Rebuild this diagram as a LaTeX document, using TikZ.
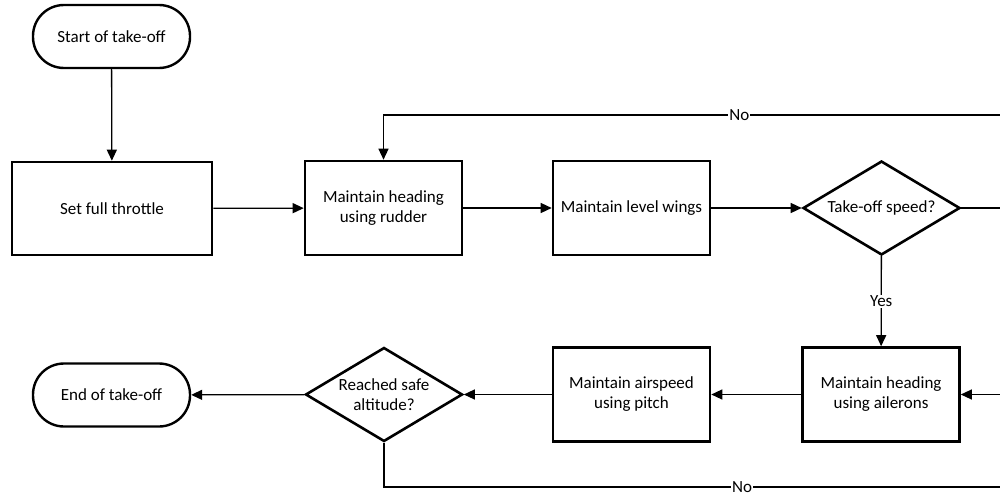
\documentclass[tikz,border=0pt]{standalone}
\usepackage{fontspec}
\setmainfont{Carlito}
\usetikzlibrary{arrows.meta,shapes.geometric}
\begin{document}
\begin{tikzpicture}[x=1pt,y=-1pt,
  every node/.style={font=\fontsize{17}{20}\selectfont},
  term/.style={draw,line width=2.4pt,rounded corners=31pt,minimum width=157pt,minimum height=63pt,inner sep=0pt,align=center},
  proc/.style={draw,line width=2.6pt,minimum width=157pt,minimum height=94pt,inner sep=0pt,align=center},
  decision/.style={draw,line width=2.6pt,diamond,minimum width=157pt,minimum height=94pt,inner sep=0pt},
  dtext/.style={align=center,inner sep=0pt},
  conn/.style={line width=1.3pt},
  arr/.style={conn,-{Triangle[length=11pt,width=10pt]}},
  lbl/.style={fill=white,inner sep=1pt}]
\useasboundingbox (0,0) rectangle (1000,495);
\clip (0,0) rectangle (1000,495);
\node[term] (start) at (111.5,36.5) {Start of take-off};
\node[proc,minimum width=200pt,minimum height=93pt] (thr) at (112,208.5) {Set full throttle};
\node[proc] (rud) at (383.5,208) {Maintain heading\\using rudder};
\node[proc] (lvl) at (631.5,208) {Maintain level wings};
\node[decision] (tos) at (881.5,208) {};
\node[dtext] (tost) at (tos) {Take-off speed?};
\node[proc] (ail) at (881,394.5) {Maintain heading\\using ailerons};
\node[proc] (asp) at (631.5,394.5) {Maintain airspeed\\using pitch};
\node[decision] (alt) at (384,394.5) {};
\node[dtext] (altt) at (alt) {Reached safe\\altitude?};
\node[term] (end) at (111.5,395) {End of take-off};
\coordinate (r1) at (1010,208);
\coordinate (r2) at (1010,115);
\coordinate (b1) at (384,487);
\coordinate (b2) at (1010,487);
\coordinate (b3) at (1010,394.5);
\draw[arr] (start) -- (thr);
\draw[arr] (thr) -- (rud);
\draw[arr] (rud) -- (lvl);
\draw[arr] (lvl) -- (tos);
\draw[arr] (tos) -- node[lbl,pos=0.5] (yes) {Yes} (ail);
\draw[arr] (ail) -- (asp);
\draw[arr] (asp) -- (alt);
\draw[arr] (alt) -- (end);
\draw[arr] (tos.east) -- (r1) -- (r2) -- node[lbl,pos=0.432] (no1) {No} (rud.north |- r2) -- (rud.north);
\draw[arr] (alt.south) -- (b1) -- node[lbl,pos=0.572] (no2) {No} (b2) -- (b3) -- (ail.east);
\end{tikzpicture}
\end{document}
